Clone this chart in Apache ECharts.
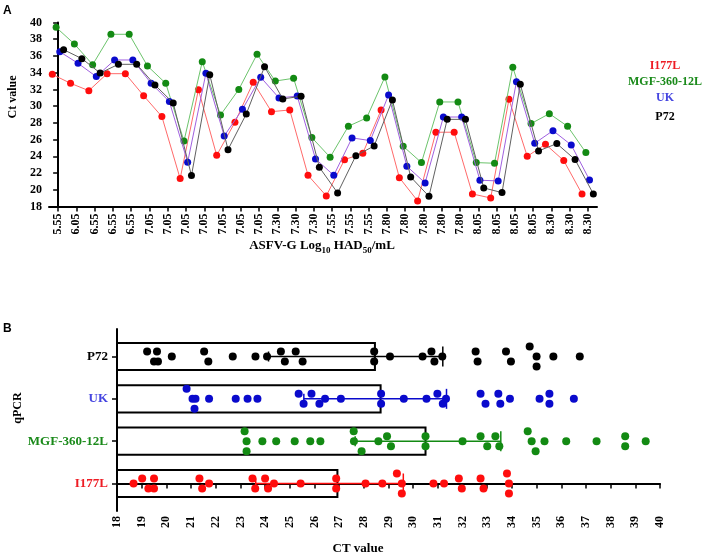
<!DOCTYPE html>
<html>
<head>
<meta charset="utf-8">
<script src="https://cdn.jsdelivr.net/npm/echarts@6/dist/echarts.min.js"></script>
<style>html,body{margin:0;padding:0;background:#fff}#c{width:708px;height:555px}</style>
</head>
<body>
<div id="c"></div>
<script>
// ---- data ----
const xLabels = ['5.55','6.05','6.55','6.55','6.55','7.05','7.05','7.05','7.05','7.05','7.05','7.05','7.30','7.30','7.30','7.55','7.55','7.55','7.80','7.80','7.80','7.80','7.80','8.05','8.05','8.05','8.05','8.30','8.30','8.30'];
const seriesNames = ['I177L','MGF-360-12L','UK','P72'];
const ctI177L = [33.8,32.73,31.85,33.88,33.88,31.25,28.75,21.34,31.97,24.12,28.07,32.85,29.34,29.54,21.73,19.27,23.6,24.36,29.54,21.45,18.67,26.88,26.88,19.5,19.02,30.82,24.0,25.44,23.49,19.5];
const ctMGF = [39.42,37.43,34.96,38.59,38.59,34.8,32.73,25.83,35.32,28.94,32.0,36.2,33.0,33.33,26.24,23.89,27.6,28.59,33.49,25.2,23.25,30.5,30.5,23.25,23.17,34.64,27.91,29.1,27.59,24.45];
const ctUK = [36.51,35.12,33.53,35.52,35.52,32.73,30.54,23.29,33.92,26.43,29.62,33.45,30.98,31.2,23.69,21.73,26.2,25.88,31.33,22.81,20.82,28.7,28.7,21.14,21.06,32.93,25.56,27.07,25.36,21.18];
const ctP72 = [36.75,35.68,33.96,35.0,35.0,32.53,30.38,21.7,33.76,24.8,29.06,34.72,30.86,31.18,22.69,19.62,24.08,25.24,30.74,21.53,19.22,28.42,28.42,20.22,19.66,32.61,24.64,25.52,23.61,19.5];
const medianCT = [26.93,30.5,28.68,28.45];
const whiskerLow = [23.62,27.65,25.57,24.14];
const whiskerHigh = [29.6,33.55,31.35,31.2];

// ---- styles ----
const allVals = [ctI177L, ctMGF, ctUK, ctP72];
const dotColors = ['#ff0d0d','#138a13','#0a0acc','#000000'];
const lineColors = ['#ff6a6a','#6cc46c','#a060e0','#606060'];
const textColors = ['#ee1c24','#1a8a1a','#4545e0','#000000'];
const xOff = [-0.32,-0.11,0.09,0.30];
const SERIF = '"Liberation Serif","Times New Roman",serif';

const gA = {left:49, top:22.5, width:548, height:184};
const gB = {left:117, top:329, width:543, height:182};
const bYMin = -0.65, bYMax = 3.65;

// beeswarm layout: values closer than one bin width are spread symmetrically
function swarm(vals){
  const binW = 0.33, stepPx = 10;
  const pxY = gB.height/(bYMax-bYMin);
  const order = vals.map((v,i)=>i).sort((a,b)=>vals[a]-vals[b]);
  const off = new Array(vals.length).fill(0);
  let k = 0;
  while (k < order.length){
    const start = vals[order[k]];
    const grp = [];
    while (k < order.length && vals[order[k]] - start < binW){ grp.push(order[k]); k++; }
    const n = grp.length;
    grp.forEach((idx,j)=>{ off[idx] = ((n-1)/2 - j)*stepPx/pxY; });
  }
  return off;
}

const chart = echarts.init(document.getElementById('c'), null, {renderer:'canvas'});
const series = [];
allVals.forEach((vals,s)=>{
  series.push({
    type:'line', name:seriesNames[s], xAxisIndex:0, yAxisIndex:0,
    data: vals.map((v,i)=>[i+xOff[s], v]),
    symbol:'circle', symbolSize:7, showSymbol:true,
    lineStyle:{color:lineColors[s], width:1},
    itemStyle:{color:dotColors[s], borderWidth:0},
    z: 2+s
  });
});
// panel B bars (median)
series.push({
  type:'custom', xAxisIndex:1, yAxisIndex:1, z:2,
  data: medianCT.map((m,i)=>[m,i]),
  renderItem:function(params, api){
    const m = api.value(0), i = api.value(1);
    const p0 = api.coord([18,i]), p1 = api.coord([m,i]);
    const bh = api.size([0,0.64])[1];
    return {type:'rect', shape:{x:p0[0], y:p0[1]-bh/2, width:p1[0]-p0[0], height:bh},
      style:{fill:'none', stroke:'#000', lineWidth:2}};
  }
});
// whiskers
series.push({
  type:'custom', xAxisIndex:1, yAxisIndex:1, z:3,
  data: whiskerLow.map((l,i)=>[l, whiskerHigh[i], i]),
  encode:{x:[0,1], y:2},
  renderItem:function(params, api){
    const i = api.value(2);
    const a = api.coord([api.value(0), i]), b = api.coord([api.value(1), i]);
    const c = dotColors[params.dataIndex];
    const st = {stroke:c, lineWidth:1.5};
    return {type:'group', children:[
      {type:'line', shape:{x1:a[0],y1:a[1],x2:b[0],y2:b[1]}, style:st},
      {type:'line', shape:{x1:a[0],y1:a[1]-5,x2:a[0],y2:a[1]+5}, style:st},
      {type:'line', shape:{x1:b[0],y1:b[1]-10,x2:b[0],y2:b[1]+10}, style:st}
    ]};
  }
});
// swarm dots
allVals.forEach((vals,s)=>{
  const off = swarm(vals);
  series.push({
    type:'scatter', xAxisIndex:1, yAxisIndex:1, z:4,
    data: vals.map((v,i)=>[v, s+off[i]]),
    symbol:'circle', symbolSize:8,
    itemStyle:{color:dotColors[s], opacity:1}
  });
});

const axisLine = {show:true, lineStyle:{color:'#000', width:2}};
const tickStyle = {show:true, inside:false, length:5, lineStyle:{color:'#000', width:1.5}};
const labelFont = {fontFamily:SERIF, fontWeight:'bold', color:'#000'};

const richB = {};
seriesNames.forEach((n,i)=>{ richB['s'+i] = {fontFamily:SERIF, fontWeight:'bold', fontSize:13, color:textColors[i]}; });

const graphics = [
  {type:'text', left:3, top:5, style:{text:'A', font:'bold 12px "Liberation Sans", Arial, sans-serif', fill:'#000'}},
  {type:'text', left:3, top:323, style:{text:'B', font:'bold 12px "Liberation Sans", Arial, sans-serif', fill:'#000'}},
  {type:'text', x:13, y:97, rotation:Math.PI/2, style:{text:'Ct value', font:'bold 12px '+SERIF, fill:'#000', align:'center', verticalAlign:'middle'}},
  {type:'text', x:18, y:408, rotation:Math.PI/2, style:{text:'qPCR', font:'bold 12px '+SERIF, fill:'#000', align:'center', verticalAlign:'middle'}},
  {type:'text', x:358, y:549, style:{text:'CT value', font:'bold 13px '+SERIF, fill:'#000', align:'center', verticalAlign:'middle'}},
  {type:'text', x:322, y:246, style:{
    text:'{a|ASFV-G Log}{s|10}{a| HAD}{s|50}{a|/mL}', align:'center', verticalAlign:'middle',
    rich:{a:{fontFamily:SERIF, fontWeight:'bold', fontSize:13, lineHeight:18, verticalAlign:'middle', fill:'#000'},
          s:{fontFamily:SERIF, fontWeight:'bold', fontSize:9, lineHeight:9, verticalAlign:'bottom', fill:'#000'}}}}
];
const legY = [66, 82, 98, 117];
seriesNames.forEach((n,i)=>{
  graphics.push({type:'text', x:665, y:legY[i], style:{text:n, font:'bold 12px '+SERIF, fill:textColors[i], align:'center', verticalAlign:'middle'}});
});

chart.setOption({
  animation:false,
  backgroundColor:'#fff',
  grid:[
    {left:gA.left, top:gA.top, width:gA.width, height:gA.height},
    {left:gB.left, top:gB.top, width:gB.width, height:gB.height}
  ],
  xAxis:[
    {type:'value', gridIndex:0, min:-0.5, max:29.5,
     axisLine:axisLine, splitLine:{show:false},
     axisTick:Object.assign({}, tickStyle, {customValues: xLabels.map((l,i)=>i)}),
     axisLabel:Object.assign({}, labelFont, {fontSize:12, rotate:90, margin:7,
       customValues: xLabels.map((l,i)=>i), formatter:(v)=>xLabels[Math.round(v)]})},
    {type:'value', gridIndex:1, min:18, max:40, interval:1,
     axisLine:axisLine, splitLine:{show:false},
     axisTick:tickStyle,
     axisLabel:Object.assign({}, labelFont, {fontSize:12, rotate:90, margin:5, showMinLabel:true, showMaxLabel:true})}
  ],
  yAxis:[
    {type:'value', gridIndex:0, min:18, max:40, interval:2,
     axisLine:axisLine, splitLine:{show:false}, axisTick:tickStyle,
     axisLabel:Object.assign({}, labelFont, {fontSize:12, margin:7})},
    {type:'value', gridIndex:1, min:bYMin, max:bYMax,
     axisLine:axisLine, splitLine:{show:false},
     axisTick:Object.assign({}, tickStyle, {customValues:[0,1,2,3]}),
     axisLabel:{customValues:[0,1,2,3], margin:9, rich:richB,
       formatter:(v)=>'{s'+Math.round(v)+'|'+seriesNames[Math.round(v)]+'}'}}
  ],
  graphic:graphics,
  series:series
});
</script>
</body>
</html>
